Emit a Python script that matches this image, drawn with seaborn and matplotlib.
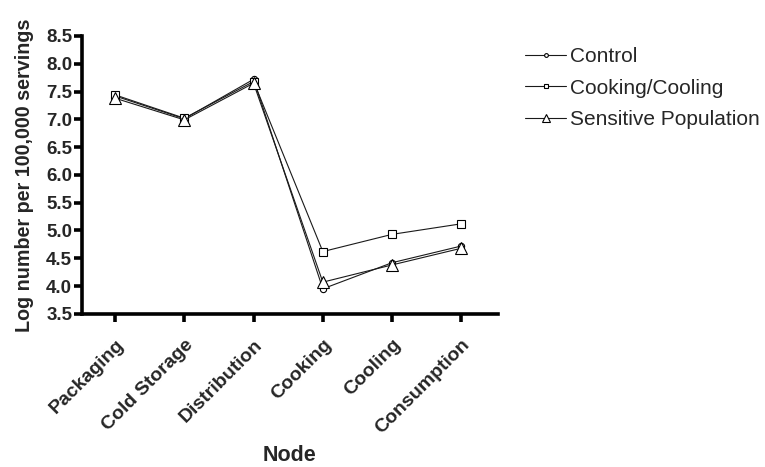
import numpy as np
import pandas as pd
import matplotlib
matplotlib.use("Agg")
import matplotlib.pyplot as plt
import seaborn as sns

nodes = ["Packaging", "Cold Storage", "Distribution", "Cooking", "Cooling", "Consumption"]
control = [7.42, 7.01, 7.72, 3.95, 4.42, 4.72]
cooking_cooling = [7.44, 7.02, 7.68, 4.62, 4.93, 5.12]
sensitive = [7.38, 6.99, 7.65, 4.07, 4.38, 4.68]
series_names = ["Control", "Cooking/Cooling", "Sensitive Population"]
y_ticks = [3.5, 4.0, 4.5, 5.0, 5.5, 6.0, 6.5, 7.0, 7.5, 8.0, 8.5]

sns.set_theme(style="ticks")
plt.rcParams["font.family"] = ["Liberation Sans", "DejaVu Sans"]

df = pd.DataFrame({
    "pos": np.tile(np.arange(len(nodes)), 3),
    "value": control + cooking_cooling + sensitive,
    "series": np.repeat(series_names, len(nodes)),
})

fig = plt.figure(figsize=(7.65, 4.67), dpi=100)
ax = fig.add_axes([0.107, 0.328, 0.544, 0.595])

styles = {
    "Control": dict(marker="o", markersize=4.5),
    "Cooking/Cooling": dict(marker="s", markersize=6),
    "Sensitive Population": dict(marker="^", markersize=9),
}
for name in series_names:
    sub = df[df["series"] == name]
    sns.lineplot(data=sub, x="pos", y="value", ax=ax, color="#1a1a1a", lw=0.8,
                 markerfacecolor="white", markeredgecolor="black",
                 markeredgewidth=0.8, label=name, sort=False,
                 **styles[name])

ax.set_xlim(-0.48, 5.53)
ax.set_ylim(3.5, 8.5)
ax.set_yticks(y_ticks)
ax.set_yticklabels([f"{v:.1f}" for v in y_ticks], fontsize=13.5, fontweight="bold")
ax.set_xticks(np.arange(len(nodes)))
ax.set_xticklabels(nodes, rotation=45, ha="right", rotation_mode="anchor",
                   fontsize=14, fontweight="bold")
ax.set_xlabel("Node", fontsize=15.5, fontweight="bold", labelpad=6)
ax.set_ylabel("Log number per 100,000 servings", fontsize=14.2, fontweight="bold", labelpad=9)

sns.despine(ax=ax)
for side in ("left", "bottom"):
    ax.spines[side].set_linewidth(2.6)
    ax.spines[side].set_color("black")
ax.tick_params(axis="both", width=2.6, length=6, color="black")
ax.tick_params(axis="y", pad=1)
ax.tick_params(axis="x", pad=10)

handles, labels = ax.get_legend_handles_labels()
leg = ax.legend(handles, labels, loc="upper left", bbox_to_anchor=(0.686, 0.899),
                bbox_transform=fig.transFigure, borderaxespad=0, borderpad=0,
                frameon=False, fontsize=15, handlelength=2.0, handletextpad=0.15,
                labelspacing=0.6, markerscale=0.6)

fig.savefig("out.png", dpi=100, facecolor="white")
